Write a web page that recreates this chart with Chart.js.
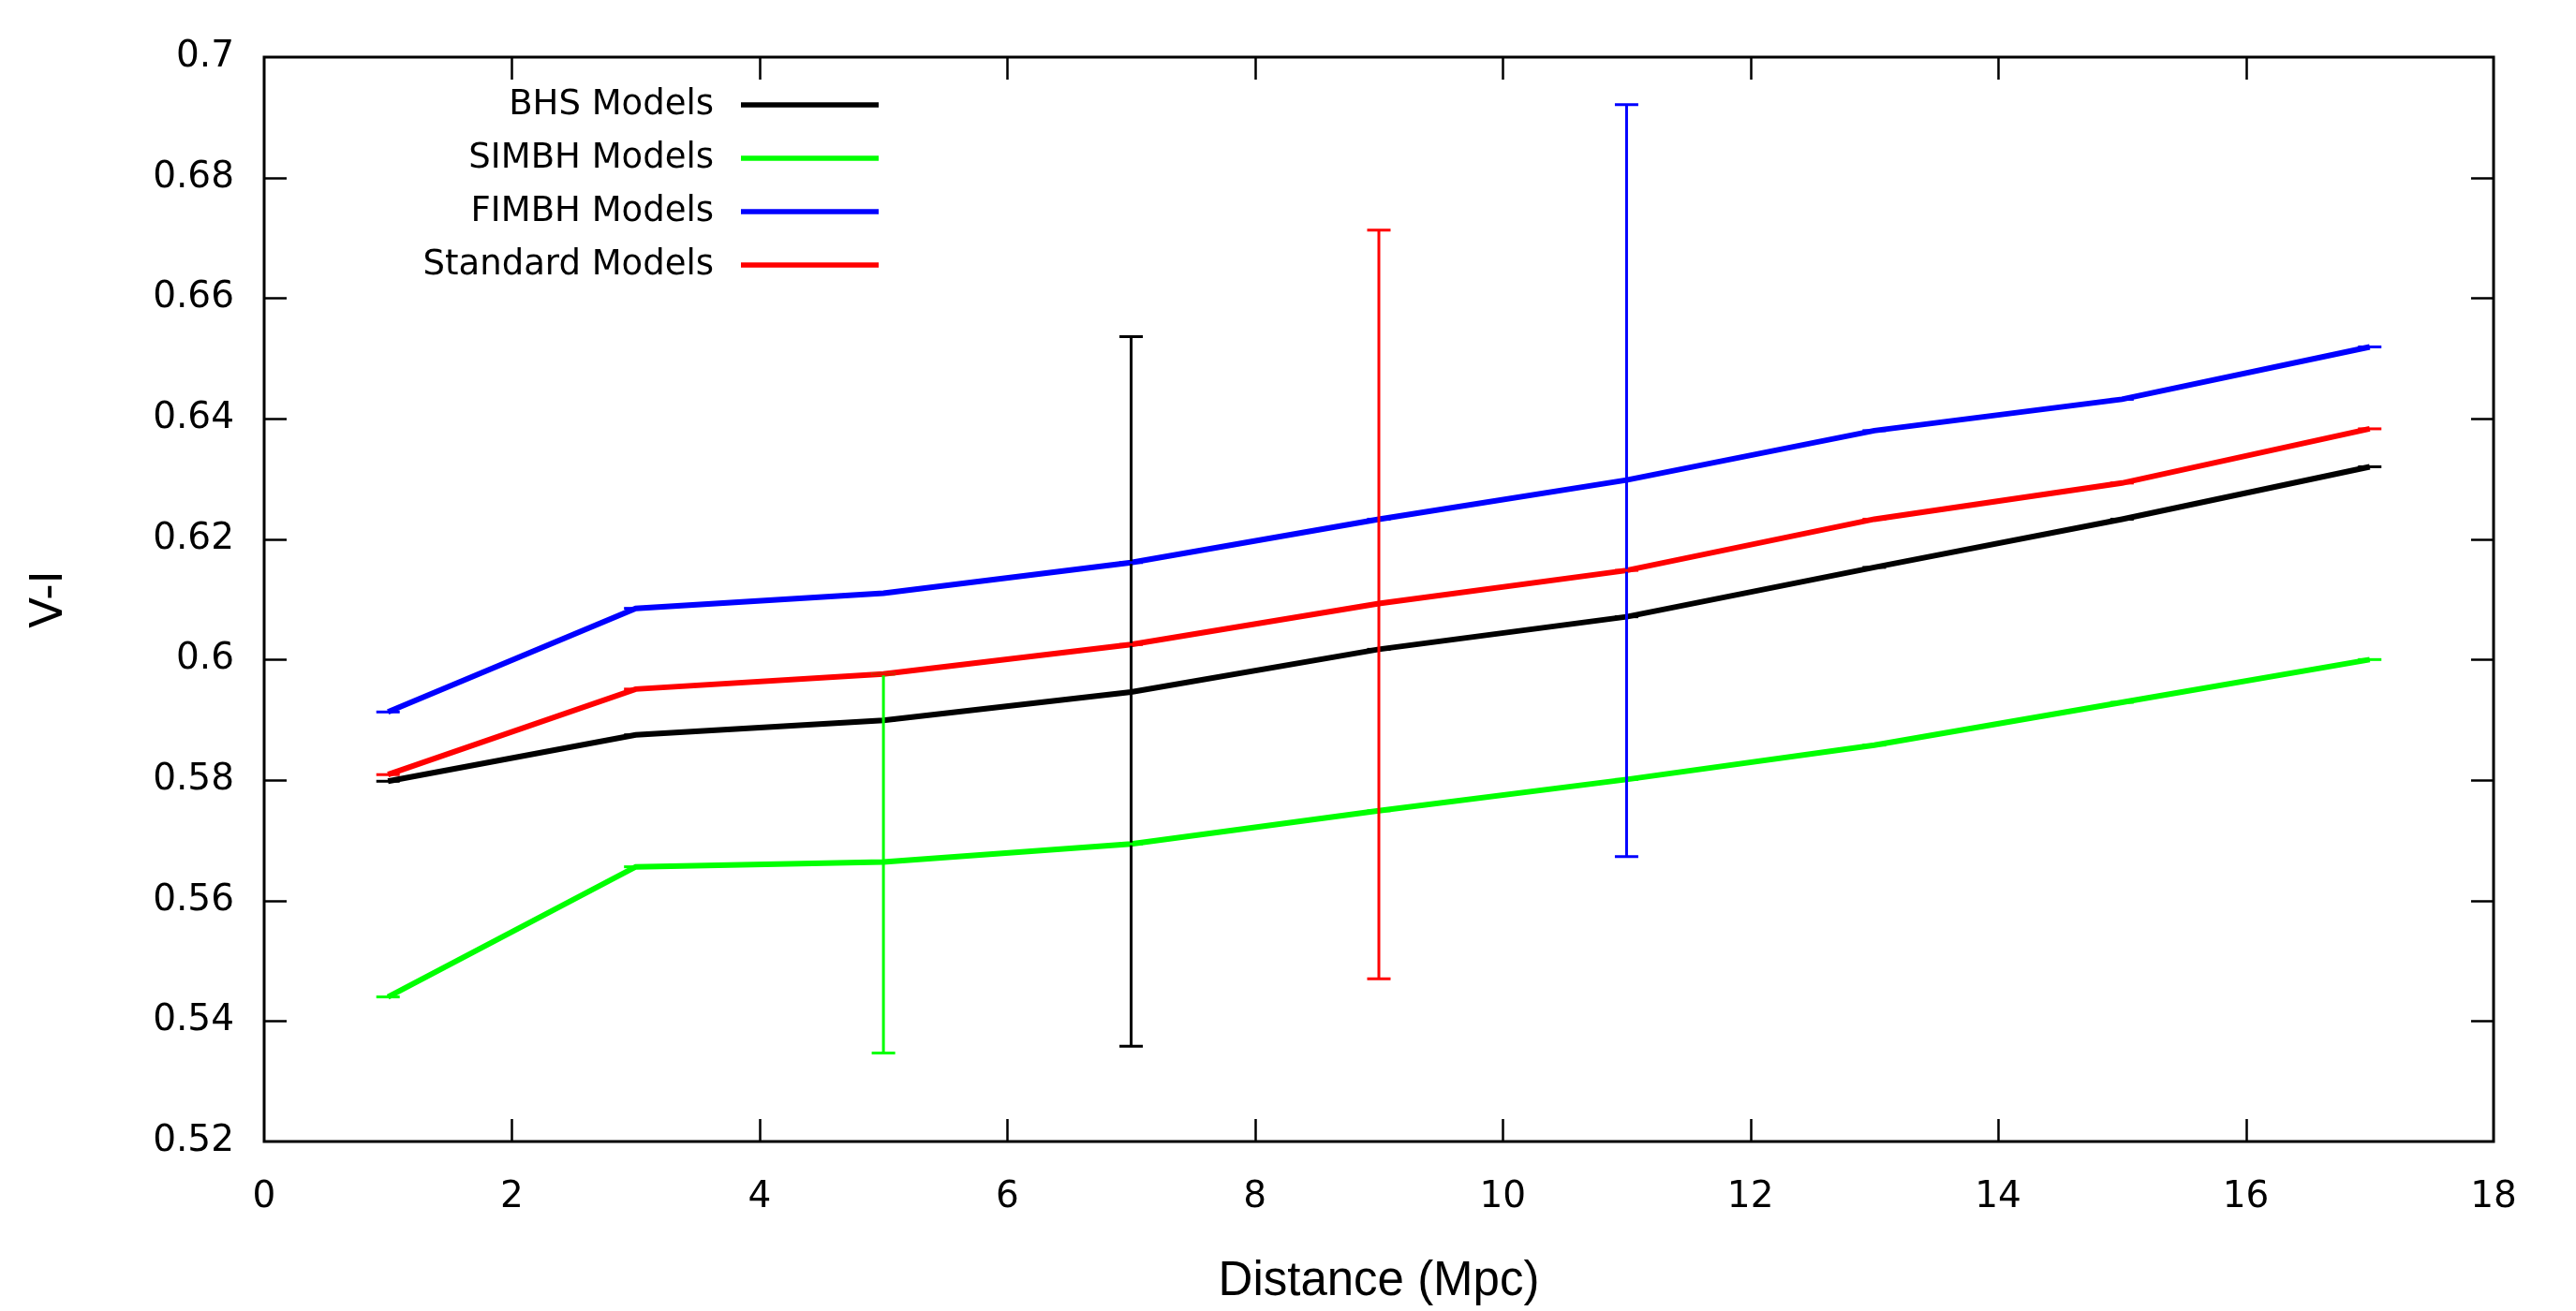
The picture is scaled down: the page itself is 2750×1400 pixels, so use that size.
<!DOCTYPE html>
<html>
<head>
<meta charset="utf-8">
<script src="https://cdn.jsdelivr.net/npm/chart.js@4.4.1/dist/chart.umd.min.js"></script>
<style>
html,body{margin:0;padding:0;background:#fff;}
#wrap{width:2750px;height:1400px;}
</style>
</head>
<body>
<div id="wrap"><canvas id="c" width="2750" height="1400"></canvas></div>
<script>
// ---- data ----
const distances = [1, 3, 5, 7, 9, 11, 13, 15, 17];
const bhs      = [0.5798, 0.5875, 0.5899, 0.5946, 0.6017, 0.6071, 0.6153, 0.6233, 0.6320];
const simbh    = [0.5440, 0.5656, 0.5664, 0.5694, 0.5749, 0.5801, 0.5858, 0.5929, 0.6000];
const fimbh    = [0.5913, 0.6085, 0.6110, 0.6161, 0.6233, 0.6298, 0.6380, 0.6432, 0.6519];
const standard = [0.5809, 0.5951, 0.5976, 0.6025, 0.6093, 0.6148, 0.6233, 0.6293, 0.6383];
// error bar extents (low, high); null = negligible
const bhsLow       = [null, null, null, 0.5358, null, null, null, null, null];
const bhsHigh      = [null, null, null, 0.6536, null, null, null, null, null];
const simbhLow     = [null, null, 0.5347, null, null, null, null, null, null];
const simbhHigh    = [null, null, 0.5976, null, null, null, null, null, null];
const fimbhLow     = [null, null, null, null, null, 0.5673, null, null, null];
const fimbhHigh    = [null, null, null, null, null, 0.6921, null, null, null];
const standardLow  = [null, null, null, null, 0.5470, null, null, null, null];
const standardHigh = [null, null, null, null, 0.6713, null, null, null, null];
const seriesNames  = ['BHS Models', 'SIMBH Models', 'FIMBH Models', 'Standard Models'];
const seriesColors = ['#000000', '#00ff00', '#0000ff', '#ff0000'];
const xTicks = [0, 2, 4, 6, 8, 10, 12, 14, 16, 18];
const yTicks = [0.52, 0.54, 0.56, 0.58, 0.6, 0.62, 0.64, 0.66, 0.68, 0.7];
const xTitle = 'Distance (Mpc)';
const yTitle = 'V-I';

const FONT = "'DejaVu Sans', sans-serif";
const TITLE_FONT = "'Liberation Sans', Arial, sans-serif";
const seriesVals = [bhs, simbh, fimbh, standard];
const seriesLow = [bhsLow, simbhLow, fimbhLow, standardLow];
const seriesHigh = [bhsHigh, simbhHigh, fimbhHigh, standardHigh];

const datasets = seriesNames.map((n, i) => ({
  label: n,
  data: distances.map((d, k) => ({x: d, y: seriesVals[i][k]})),
  borderColor: seriesColors[i],
  backgroundColor: seriesColors[i],
  borderWidth: 6,
  pointRadius: 0,
  tension: 0,
  fill: false,
  order: 4 - i,
  errLow: seriesLow[i],
  errHigh: seriesHigh[i]
}));

const gnuplotFrame = {
  id: 'gnuplotFrame',
  beforeDatasetsDraw(chart) {
    const ctx = chart.ctx;
    const {left, right, top, bottom} = chart.chartArea;
    const xs = chart.scales.x, ys = chart.scales.y;
    ctx.save();
    ctx.strokeStyle = '#000';
    ctx.lineWidth = 2.5;
    const tl = 24;
    ctx.beginPath();
    xTicks.forEach(v => {
      const px = Math.round(xs.getPixelForValue(v)) + 0.5;
      if (v !== xTicks[0] && v !== xTicks[xTicks.length - 1]) {
        ctx.moveTo(px, bottom); ctx.lineTo(px, bottom - tl);
        ctx.moveTo(px, top); ctx.lineTo(px, top + tl);
      }
    });
    yTicks.forEach(v => {
      const py = Math.round(ys.getPixelForValue(v)) + 0.5;
      if (v !== yTicks[0] && v !== yTicks[yTicks.length - 1]) {
        ctx.moveTo(left, py); ctx.lineTo(left + tl, py);
        ctx.moveTo(right, py); ctx.lineTo(right - tl, py);
      }
    });
    ctx.stroke();
    ctx.lineWidth = 3;
    ctx.strokeRect(left, top, right - left, bottom - top);
    ctx.restore();
  },
  afterDatasetsDraw(chart) {
    const ctx = chart.ctx;
    const xs = chart.scales.x, ys = chart.scales.y;
    ctx.save();
    chart.data.datasets.forEach(ds => {
      ctx.strokeStyle = ds.borderColor;
      ds.data.forEach((p, k) => {
        const px = xs.getPixelForValue(p.x);
        const lo = ds.errLow[k], hi = ds.errHigh[k];
        if (lo !== null && hi !== null) {
          const yl = ys.getPixelForValue(lo), yh = ys.getPixelForValue(hi);
          ctx.lineWidth = 3;
          ctx.beginPath(); ctx.moveTo(px, yl); ctx.lineTo(px, yh); ctx.stroke();
          ctx.beginPath();
          ctx.moveTo(px - 12.5, yl); ctx.lineTo(px + 12.5, yl);
          ctx.moveTo(px - 12.5, yh); ctx.lineTo(px + 12.5, yh);
          ctx.stroke();
        } else {
          const py = ys.getPixelForValue(p.y);
          ctx.lineWidth = 3;
          ctx.beginPath(); ctx.moveTo(px - 12.5, py); ctx.lineTo(px + 12.5, py); ctx.stroke();
        }
      });
    });
    // legend
    ctx.font = '37px ' + FONT;
    ctx.textAlign = 'right';
    ctx.textBaseline = 'middle';
    const rowsY = [112, 169, 226, 283];
    seriesNames.forEach((n, i) => {
      ctx.fillStyle = '#000';
      ctx.fillText(n, 762, rowsY[i]);
      ctx.strokeStyle = seriesColors[i];
      ctx.lineWidth = 5.5;
      ctx.beginPath(); ctx.moveTo(791, rowsY[i]); ctx.lineTo(938, rowsY[i]); ctx.stroke();
    });
    ctx.restore();
  }
};

new Chart(document.getElementById('c'), {
  type: 'line',
  data: { datasets },
  options: {
    responsive: false,
    animation: false,
    devicePixelRatio: 1,
    layout: { padding: { left: 0, top: 61, right: 88, bottom: 0 } },
    plugins: { legend: { display: false }, tooltip: { enabled: false } },
    scales: {
      x: {
        type: 'linear', min: 0, max: 18,
        afterBuildTicks: s => { s.ticks = xTicks.map(v => ({value: v})); },
        afterFit: s => { s.height = 181; },
        grid: { display: false, drawTicks: false },
        border: { display: false },
        ticks: { font: { family: FONT, size: 39 }, color: '#000', padding: 36, maxRotation: 0, callback: v => String(v) },
        title: { display: true, text: xTitle, font: { family: TITLE_FONT, size: 51 }, color: '#000', padding: { top: 0, bottom: 0 } }
      },
      y: {
        type: 'linear', min: 0.52, max: 0.7,
        afterBuildTicks: s => { s.ticks = yTicks.map(v => ({value: v})); },
        afterFit: s => { s.width = 282; },
        grid: { display: false, drawTicks: false },
        border: { display: false },
        ticks: { font: { family: FONT, size: 39 }, color: '#000', padding: 32, callback: v => String(Math.round(v * 100) / 100) },
        title: { display: true, text: yTitle, font: { family: FONT, size: 48 }, color: '#000', padding: { top: 25, bottom: 0 } }
      }
    }
  },
  plugins: [gnuplotFrame]
});
</script>
</body>
</html>
